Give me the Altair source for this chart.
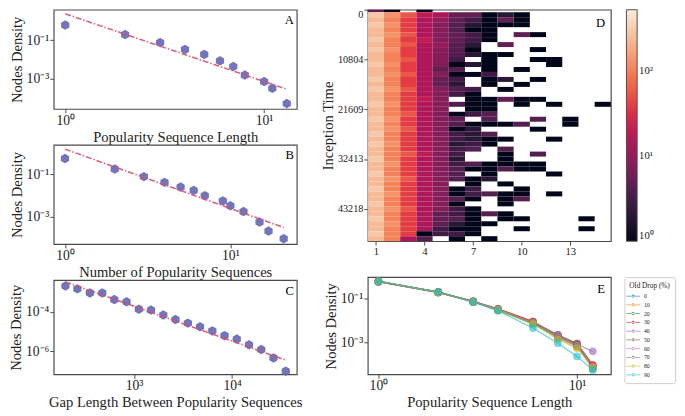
import altair as alt
import pandas as pd

FONT = "Liberation Serif"
POINT_COLOR = "#6565b3"
FIT_COLOR = "#d4506e"
FRAME = "#4a4a4a"
TEXT = "#222222"
HEX = "M0,-1L0.866,-0.5L0.866,0.5L0,1L-0.866,0.5L-0.866,-0.5Z"
LEGEND_SYMBOL = ("M-1.8,-0.12L1.8,-0.12L1.8,0.12L-1.8,0.12Z "
                 "M-0.4,0A0.4,0.4 0 1,0 0.4,0A0.4,0.4 0 1,0 -0.4,0Z")

# ---------------- Panel A ----------------
a_length = [1, 2, 3, 4, 5, 6, 7, 8, 10, 11, 13]
a_density = [0.63, 0.2, 0.076, 0.033, 0.018, 0.0083, 0.0042, 0.0015, 0.00068, 0.0003, 0.000048]
a_fit_x = [1, 13]
a_fit_y = [2.43, 0.00027]

# ---------------- Panel B ----------------
b_count = [1, 2, 3, 4, 5, 6, 7, 9, 10, 12, 15, 17, 21]
b_density = [0.575, 0.182, 0.079, 0.042, 0.025, 0.0174, 0.0098, 0.0055, 0.0032, 0.0017, 0.00054, 0.0002, 0.000087]
b_fit_x = [1, 21]
b_fit_y = [1.62, 0.000295]

# ---------------- Panel C ----------------
c_gap = [200, 265, 355, 475, 630, 840, 1120, 1490, 1990, 2650, 3540, 4710, 6280, 8370,
         11150, 14860, 19800, 26400, 35200]
c_density = [2.1e-3, 1.5e-3, 9.3e-4, 9.3e-4, 4.3e-4, 3.3e-4, 1.4e-4, 1.26e-4, 7.1e-5, 4.2e-5,
             2.75e-5, 1.8e-5, 1.1e-5, 6.3e-6, 4.3e-6, 2.2e-6, 1.26e-6, 4.7e-7, 1.0e-7]
c_fit_x = [200, 35500]
c_fit_y = [3.4e-3, 3.6e-7]

# ---------------- Panel D (heatmap) ----------------
heat_columns = list(range(1, 16))
heat_tick_values = [0, 10804, 21609, 32413, 43218]
heat_first_row_end = 540
heat_row_step = 1080.4
heat_levels = {"1": 1, "2": 2, "3": 3, "4": 4, "5": 5, "8": 8, "a": 11, "b": 15, "c": 20,
               "d": 40, "D": 55, "e": 105, "E": 130, "g": 240, "h": 300}
heat_rows = [
    "51.1...........",
    "hEDcb55121.....",
    "gedba53151.....",
    "hEdb842111.....",
    "gedb8411.......",
    "gEDb8531.51....",
    "hedc8531.......",
    "geDba42.5......",
    "hEdb841...1....",
    "gedb84211......",
    "geDb83.1..11...",
    "hEdb8121...1...",
    "gedb54.1.1.....",
    "gEDb8113.......",
    "hedb53.12.1....",
    "gedb52.1.1.....",
    "hEDb843.1......",
    "gedb831........",
    "gedc8.11511....",
    "hEdb8411.1.1..1",
    "gedb8.11.......",
    "geDb8134.......",
    "hEdb85.4..4.1..",
    "gedb841114..1..",
    "gEDb812...1....",
    "hedb8324.......",
    "gedb83211..1...",
    "hEdb8231.......",
    "gedb834.4......",
    "geDc83..1.4....",
    "hedb82..1......",
    "gEdb8341111....",
    "gedb8411411....",
    "hedb84.1...1...",
    "gEDb8412.......",
    "gedb8.1.1......",
    "hedb813..1.....",
    "gEdb813411.1...",
    "gedb841.14.....",
    "hedb81..1......",
    "gEDb831........",
    "gedb53141......",
    "hedb541.11...1.",
    "gEdb5211.......",
    "gedb311..1...1.",
    "hed1331........",
    "geb4.1.1.......",
]
rocket_values = [1, 2.45, 6.0, 14.8, 36.2, 88.9, 218, 535]
rocket_colors = ["#03051a", "#35193e", "#701f57", "#ad1759", "#e13342", "#f37651", "#f6b48f", "#faebdd"]

# ---------------- Panel E ----------------
e_length = [1, 2, 3, 4, 6, 8, 10, 12]
e_drops = ["0", "10", "20", "30", "40", "50", "60", "70", "80", "90"]
e_density = {
    "0":  [0.617, 0.2, 0.0724, 0.0316, 0.00759, 0.00191, 0.000759, 7.1e-5],
    "10": [0.63, 0.195, 0.0741, 0.0331, 0.00832, 0.00158, 0.000631, 8.9e-5],
    "20": [0.646, 0.204, 0.0759, 0.0302, 0.00708, 0.00178, 0.000708, 7.6e-5],
    "30": [0.603, 0.2, 0.0741, 0.0347, 0.00933, 0.002, 0.000891, 9.5e-5],
    "40": [0.617, 0.204, 0.0759, 0.0339, 0.00832, 0.00219, 0.000832, 0.000398],
    "50": [0.63, 0.2, 0.0759, 0.0347, 0.00891, 0.00224, 0.000891, 8.9e-5],
    "60": [0.63, 0.204, 0.0724, 0.0331, 0.00794, 0.002, 0.000708, 7.9e-5],
    "70": [0.617, 0.2, 0.0741, 0.0324, 0.00759, 0.00224, 0.000794, 6.3e-5],
    "80": [0.63, 0.2, 0.0724, 0.0309, 0.00708, 0.00141, 0.000562, 7.1e-5],
    "90": [0.63, 0.209, 0.0708, 0.0282, 0.00457, 0.000933, 0.000234, 5.6e-5],
}
tab10 = ["#1f77b4", "#ff7f0e", "#2ca02c", "#d62728", "#9467bd", "#8c564b", "#e377c2",
         "#7f7f7f", "#bcbd22", "#17becf"]

SUP = {"0": "\u2070", "1": "\u00b9", "2": "\u00b2", "3": "\u00b3", "4": "\u2074",
       "6": "\u2076", "-": "\u207b"}


def sup_label(exp):
    return "10" + "".join(SUP[ch] for ch in str(exp))


def label_expr(pairs):
    expr = "''"
    for value, exp in reversed(pairs):
        expr = (f"(datum.value > {value * 0.9} && datum.value < {value * 1.1}) ? "
                f"'{sup_label(exp)}' : {expr}")
    return expr


LEFT_W = 250


def loglog_panel(xs, ys, fx, fy, xdom, ydom, xticks, yticks, xtitle, letter, height):
    pts = pd.DataFrame({"x": xs, "y": ys})
    fit = pd.DataFrame({"x": fx, "y": fy})
    xscale = alt.Scale(type="log", domain=xdom, nice=False)
    yscale = alt.Scale(type="log", domain=ydom, nice=False)
    xaxis = alt.Axis(title=xtitle, values=[v for v, _ in xticks], labelExpr=label_expr(xticks))
    yaxis = alt.Axis(title="Nodes Density", values=[v for v, _ in yticks], labelExpr=label_expr(yticks))
    points = alt.Chart(pts).mark_point(
        shape=HEX, filled=True, size=95, color=POINT_COLOR, opacity=0.9
    ).encode(x=alt.X("x:Q", scale=xscale, axis=xaxis), y=alt.Y("y:Q", scale=yscale, axis=yaxis))
    line = alt.Chart(fit).mark_line(
        color=FIT_COLOR, strokeWidth=1.6, strokeDash=[6, 2, 1.5, 2], opacity=0.9
    ).encode(x="x:Q", y="y:Q")
    lab = alt.Chart(pd.DataFrame({"t": [letter]})).mark_text(
        font=FONT, fontSize=13, align="right", baseline="middle", color="black"
    ).encode(text="t:N", x=alt.value(LEFT_W - 3), y=alt.value(11))
    return alt.layer(points, line, lab).properties(width=LEFT_W, height=height)


panel_a = loglog_panel(a_length, a_density, a_fit_x, a_fit_y, [0.875, 14.6], [2.5e-5, 3.98],
                       [(1, 0), (10, 1)], [(0.1, -1), (0.001, -3)],
                       "Popularity Sequence Length", "A", 102)
panel_b = loglog_panel(b_count, b_density, b_fit_x, b_fit_y, [0.855, 25.2], [4.8e-5, 2.57],
                       [(1, 0), (10, 1)], [(0.1, -1), (0.001, -3)],
                       "Number of Popularity Sequences", "B", 102)
panel_c = loglog_panel(c_gap, c_density, c_fit_x, c_fit_y, [152, 45600], [6.9e-8, 4.2e-3],
                       [(1000, 3), (10000, 4)], [(1e-4, -4), (1e-6, -6)],
                       "Gap Length Between Popularity Sequences", "C", 97)

left = alt.vconcat(panel_a, panel_b, panel_c, spacing=-2)

# heatmap table
recs = []
for i, row in enumerate(heat_rows):
    if i == 0:
        t0, t1 = 0, heat_first_row_end
    else:
        t0 = heat_first_row_end + (i - 1) * heat_row_step
        t1 = t0 + heat_row_step
    for c, ch in zip(heat_columns, row):
        if ch == ".":
            continue
        recs.append({"c0": c - 0.5, "c1": c + 0.5, "t0": t0, "t1": t1, "v": heat_levels[ch]})
heat_df = pd.DataFrame(recs)
heat_end = heat_first_row_end + (len(heat_rows) - 1) * heat_row_step

D_W, D_H = 250, 238
heat = alt.Chart(heat_df).mark_rect(stroke=None).encode(
    x=alt.X("c0:Q", scale=alt.Scale(domain=[0.5, 15.5], nice=False, zero=False),
            axis=alt.Axis(title=None, values=[1, 4, 7, 10, 13], labelFontSize=11)),
    x2="c1:Q",
    y=alt.Y("t0:Q", scale=alt.Scale(domain=[0, heat_end], reverse=True, nice=False, zero=False),
            axis=alt.Axis(title="Inception Time", values=heat_tick_values, labelFontSize=10.5,
                          labelFlush=False, format="d",
                          labelBaseline={"condition": {"test": "datum.value == 0", "value": "top"},
                                         "value": "middle"})),
    y2="t1:Q",
    color=alt.Color("v:Q", scale=alt.Scale(type="log", domain=rocket_values, range=rocket_colors),
                    legend=alt.Legend(orient="none", legendX=D_W + 16, legendY=0, direction="vertical",
                                      title=None, gradientLength=D_H, gradientThickness=11,
                                      values=[1, 10, 100],
                                      labelExpr=label_expr([(1, 0), (10, 1), (100, 2)]),
                                      labelFontSize=11, labelFont=FONT,
                                      gradientStrokeColor=FRAME, gradientStrokeWidth=1)),
)
d_lab = alt.Chart(pd.DataFrame({"t": ["D"]})).mark_text(
    font=FONT, fontSize=13, align="right", baseline="middle", color="black"
).encode(text="t:N", x=alt.value(D_W - 6), y=alt.value(14))
panel_d = alt.layer(heat, d_lab).properties(width=D_W, height=D_H)

# panel E table
e_recs = []
for d in e_drops:
    for x, y in zip(e_length, e_density[d]):
        e_recs.append({"x": x, "y": y, "drop": d})
e_df = pd.DataFrame(e_recs)
E_W, E_H = 250, 100
e_lines = alt.Chart(e_df).mark_line(
    point=alt.OverlayMarkDef(filled=True, size=64, opacity=0.6), strokeWidth=1.4, opacity=0.6
).encode(
    x=alt.X("x:Q", scale=alt.Scale(type="log", domain=[0.884, 14.8], nice=False),
            axis=alt.Axis(title="Popularity Sequence Length", values=[1, 10],
                          labelExpr=label_expr([(1, 0), (10, 1)]))),
    y=alt.Y("y:Q", scale=alt.Scale(type="log", domain=[3.5e-5, 0.98], nice=False),
            axis=alt.Axis(title="Nodes Density", values=[0.1, 0.001],
                          labelExpr=label_expr([(0.1, -1), (0.001, -3)]))),
    color=alt.Color("drop:N", sort=e_drops, scale=alt.Scale(domain=e_drops, range=tab10),
                    legend=alt.Legend(orient="none", legendX=E_W + 14, legendY=0,
                                      title="Old Drop (%)", titleFontSize=7.5, titleFont=FONT,
                                      titleFontWeight="normal", titlePadding=3,
                                      labelFontSize=6, labelFont=FONT, labelOffset=7,
                                      symbolType=LEGEND_SYMBOL, symbolSize=64,
                                      symbolStrokeWidth=0, symbolOpacity=0.8,
                                      rowPadding=2, padding=5,
                                      strokeColor="#cccccc", cornerRadius=2, fillColor="white")),
)
e_lab = alt.Chart(pd.DataFrame({"t": ["E"]})).mark_text(
    font=FONT, fontSize=13, align="right", baseline="middle", color="black"
).encode(text="t:N", x=alt.value(E_W - 6), y=alt.value(12))
panel_e = alt.layer(e_lines, e_lab).properties(width=E_W, height=E_H)

right = alt.vconcat(panel_d, panel_e, spacing=18).resolve_scale(color="independent").resolve_legend(color="independent")

chart = alt.hconcat(left, right, spacing=18).properties(
    padding={"top": -6, "left": 0, "right": 0, "bottom": 0}
).configure_axis(
    labelFont=FONT, titleFont=FONT, labelFontSize=14, titleFontSize=15, titleFontWeight="normal",
    labelColor=TEXT, titleColor=TEXT, tickColor=FRAME, tickSize=4, domain=False, grid=False,
    labelPadding=1, titlePadding=2,
).configure_view(stroke=FRAME, strokeWidth=1.2).configure_legend(labelColor=TEXT, titleColor=TEXT)

chart.save("out.html", embed_options={"renderer": "svg", "actions": False})
